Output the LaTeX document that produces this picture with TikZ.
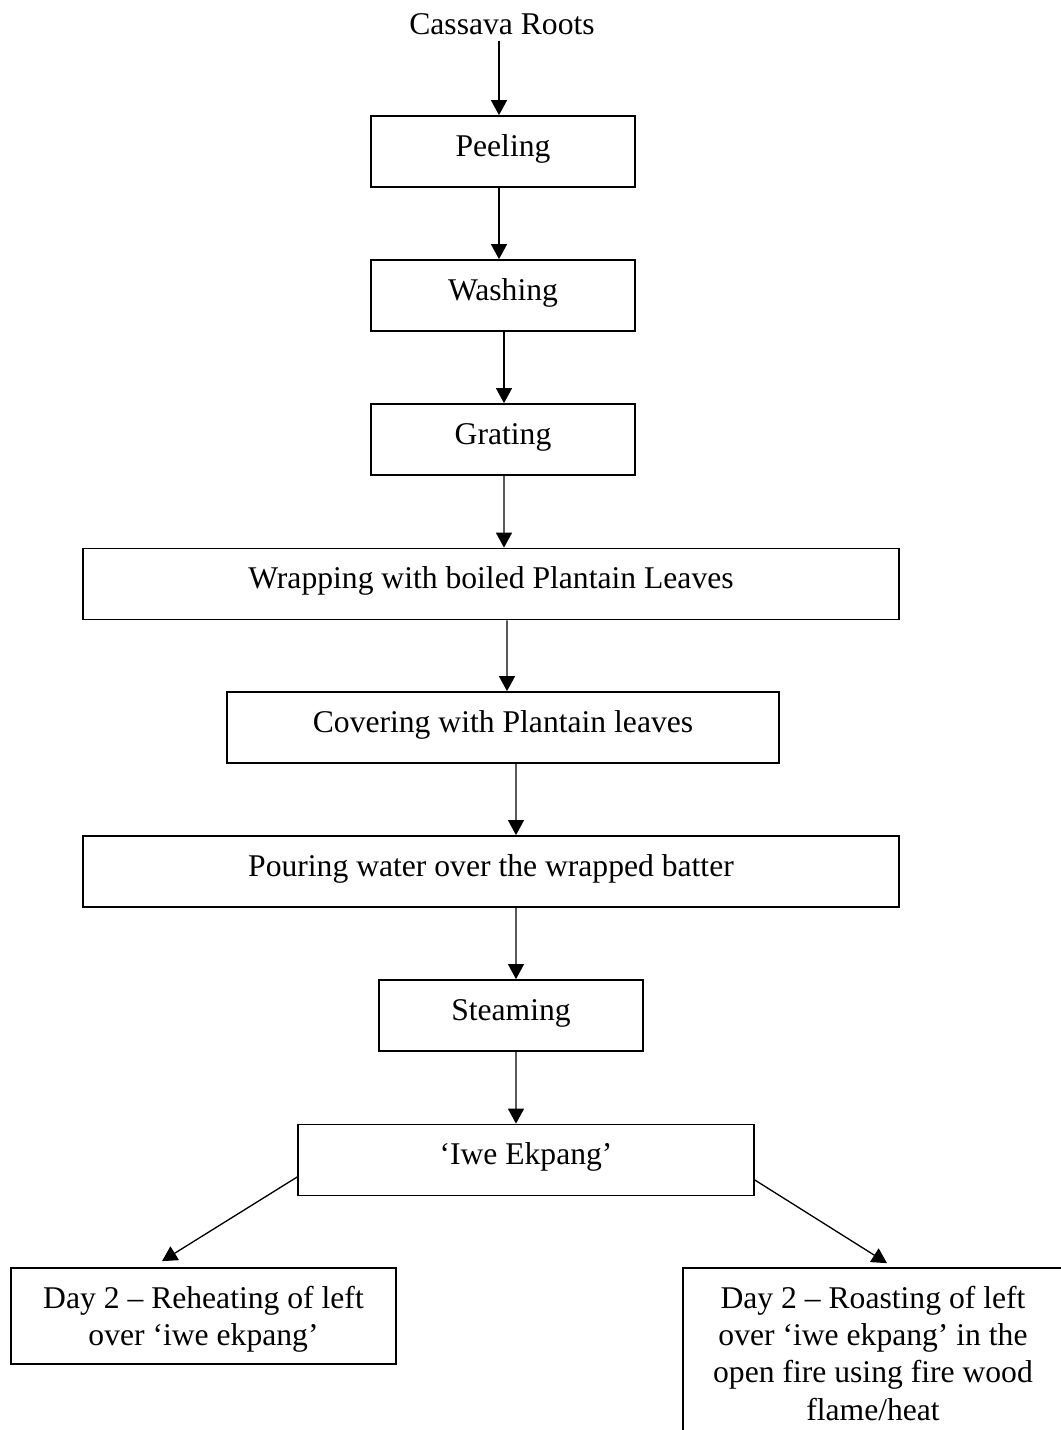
\documentclass[tikz,border=0pt]{standalone}
\usepackage{fontspec}
\setmainfont{Liberation Serif}
\usetikzlibrary{arrows.meta}

\begin{document}
\begin{tikzpicture}[x=0.02cm,y=-0.02cm,
  every node/.style={font=\fontsize{18}{21.3}\selectfont},
  stage/.style={draw,line width=1pt,inner sep=0pt,text height=0.8cm,text depth=0.62cm,minimum width=#1},
  stage/.default=5.28cm,
  daybox/.style={draw,line width=1pt,inner sep=0pt,text height=0.8cm,align=flush center,text width=7.2cm,minimum width=#1},
  flow/.style={line width=0.75pt,-{Triangle[width=0.32cm,length=0.3cm]}}]
\useasboundingbox (0,0) rectangle (1061,1430);
\draw (502,34) node[anchor=base] (roots) {Cassava Roots};
\draw (503,151.5) node[stage] (peel) {Peeling};
\draw (503,295.5) node[stage] (wash) {Washing};
\draw (503,439.5) node[stage] (grate) {Grating};
\draw (491,584) node[stage=16.32cm] (wrap) {Wrapping with boiled Plantain Leaves};
\draw (503,727.5) node[stage=11.04cm] (cover) {Covering with Plantain leaves};
\draw (491,871.5) node[stage=16.32cm] (pour) {Pouring water over the wrapped batter};
\draw (511,1015.5) node[stage] (steam) {Steaming};
\draw (526,1160) node[stage=9.12cm] (iwe) {‘Iwe Ekpang’};
\draw (203.5,1316) node[daybox=7.7cm,text depth=1.12cm] (reheat) {Day 2 – Reheating of left\\ over ‘iwe ekpang’};
\draw (873,1358) node[daybox=7.6cm,text depth=2.8cm] (roast) {Day 2 – Roasting of left\\ over ‘iwe ekpang’ in the\\ open fire using fire wood\\ flame/heat};
%MAIN LINE
\draw[flow] ([xshift=-0.06cm]roots.south) -- ([xshift=-0.08cm]peel.north);
\draw[flow] ([xshift=-0.08cm]peel.south) -- ([xshift=-0.08cm]wash.north);
\draw[flow] ([xshift=0.02cm]wash.south) -- ([xshift=0.02cm]grate.north);
\draw[flow] ([xshift=0.02cm]grate.south) -- ([xshift=0.26cm]wrap.north);
\draw[flow] ([xshift=0.32cm]wrap.south) -- ([xshift=0.08cm]cover.north);
\draw[flow] ([xshift=0.26cm]cover.south) -- ([xshift=0.5cm]pour.north);
\draw[flow] ([xshift=0.5cm]pour.south) -- ([xshift=0.1cm]steam.north);
\draw[flow] ([xshift=0.1cm]steam.south) -- ([xshift=-0.2cm]iwe.north);
%Iwe Ekpang to reheating
\draw[flow] ([yshift=-0.34cm]iwe.west) -- ([xshift=-0.83cm,yshift=0.12cm]reheat.north);
%Iwe Ekpang to roasting
\draw[flow] ([yshift=-0.4cm]iwe.east) -- ([xshift=0.28cm,yshift=0.08cm]roast.north);
\end{tikzpicture}
\end{document}
